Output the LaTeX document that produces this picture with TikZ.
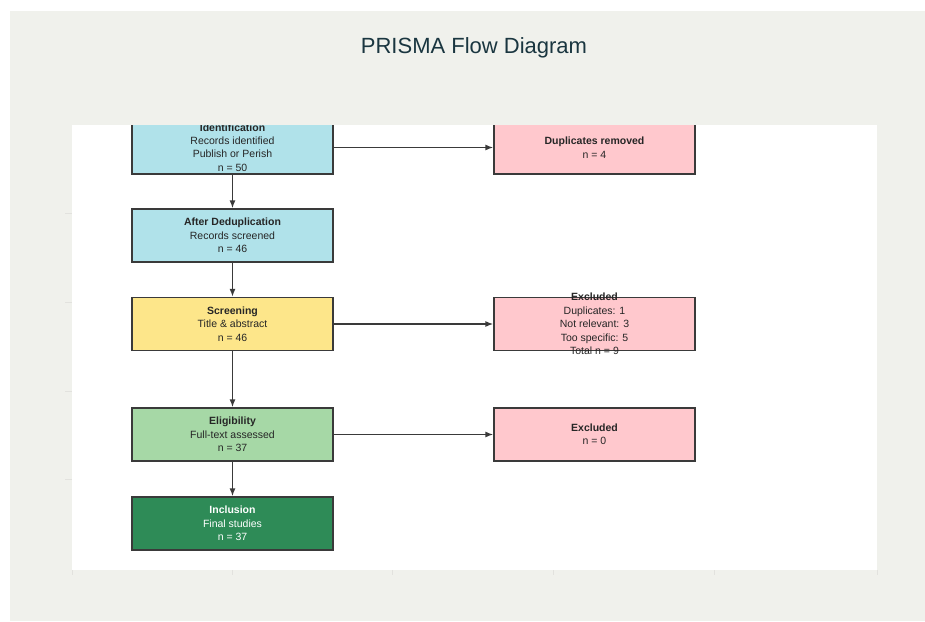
\documentclass[tikz,border=0pt]{standalone}
\usepackage{fontspec}
\setmainfont{Liberation Sans}
\usetikzlibrary{arrows.meta}
\definecolor{prismaBg}{HTML}{F0F1EC}
\definecolor{prismaTitle}{HTML}{1A3640}
\definecolor{prismaEdge}{HTML}{3A3A3A}
\definecolor{axisGray}{HTML}{E2E2DE}
\definecolor{stageIdent}{HTML}{B0E2EA}
\definecolor{stageScreen}{HTML}{FDE68A}
\definecolor{stageElig}{HTML}{A6D8A6}
\definecolor{stageIncl}{HTML}{2E8B57}
\definecolor{stageExcl}{HTML}{FFC8CD}

\begin{document}
\begin{tikzpicture}[x=1pt, y=-1pt,
    stagebox/.style={draw=prismaEdge, line width=1.3pt, minimum width=201pt, minimum height=53pt, inner sep=0pt},
    stagetext/.style={align=center, inner sep=0pt, text=black!85, font=\fontsize{10.5}{13.4}\selectfont},
    flow/.style={-{Latex[length=8pt,width=6pt]}, line width=1.4pt, prismaEdge}]

    \useasboundingbox (0,0) rectangle (925,621);
    \fill[prismaBg] (10,11) rectangle (925,621);
    \fill[white] (72,125) rectangle (877,570);
    \foreach \tx in {72,232,392,553,714,877}
      \draw[axisGray, line width=0.6pt] (\tx,570) -- (\tx,575);
    \foreach \ty in {213,302,391,479}
      \draw[axisGray, line width=0.6pt] (65,\ty) -- (72,\ty);

    \node[text=prismaTitle, font=\fontsize{22}{26}\selectfont] (title) at (474,48) {PRISMA Flow Diagram};

    \begin{scope}
      \clip (72,125) rectangle (877,570);

      \node[stagebox, fill=stageIdent, label={[stagetext]center:{\textbf{Identification}\\Records identified\\Publish or Perish\\n = 50}}] (ident) at (232.5,147.5) {};
      \node[stagebox, fill=stageExcl, label={[stagetext]center:{\textbf{Duplicates removed}\\n = 4}}] (dup) at (594.5,147.5) {};

      \node[stagebox, fill=stageIdent, label={[stagetext]center:{\textbf{After Deduplication}\\Records screened\\n = 46}}] (dedup) at (232.5,235.5) {};

      \node[stagebox, fill=stageScreen, label={[stagetext]center:{\textbf{Screening}\\Title \& abstract\\n = 46}}] (screen) at (232.5,324) {};
      \node[stagebox, fill=stageExcl, label={[stagetext]center:{\textbf{Excluded}\\Duplicates: 1\\Not relevant: 3\\Too specific: 5\\Total n = 9}}] (exclA) at (594.5,324) {};

      \node[stagebox, fill=stageElig, label={[stagetext]center:{\textbf{Eligibility}\\Full-text assessed\\n = 37}}] (elig) at (232.5,434.5) {};
      \node[stagebox, fill=stageExcl, label={[stagetext]center:{\textbf{Excluded}\\n = 0}}] (exclB) at (594.5,434.5) {};

      \node[stagebox, fill=stageIncl, label={[stagetext, text=white]center:{\textbf{Inclusion}\\Final studies\\n = 37}}] (incl) at (232.5,523.5) {};

      \draw[flow] (ident) -- (dedup);
      \draw[flow] (dedup) -- (screen);
      \draw[flow] (screen) -- (elig);
      \draw[flow] (elig) -- (incl);

      \draw[flow] (ident) -- (dup);
      \draw[flow] (screen) -- (exclA);
      \draw[flow] (elig) -- (exclB);
    \end{scope}

\end{tikzpicture}
\end{document}
